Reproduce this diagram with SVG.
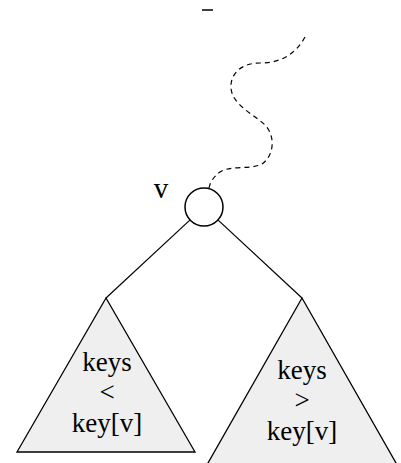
<svg xmlns="http://www.w3.org/2000/svg" width="401" height="463" viewBox="0 0 401 463">
<style>
.tri{fill:#efefef;stroke:#000;stroke-width:1.3}
.edge{stroke:#000;stroke-width:1.2;fill:none}
.dash{stroke:#000;stroke-width:1.2;fill:none;stroke-dasharray:5,4}
.lbl{font-family:"Liberation Serif",serif;font-size:27px;fill:#000;text-anchor:middle}
</style>
<rect width="401" height="463" fill="#fff"/>
<line x1="202" y1="10" x2="213" y2="10" stroke="#000" stroke-width="1.5"/>
<g id="connectors">
<path class="dash" d="M305,37 C295,55 280,63 260,63 C240,63 230,75 231,88 C232,105 255,115 265,125 C275,135 275,155 262,164 C250,170 230,165 220,172 C213,177 210,183 209,188"/>
<line class="edge" x1="190.1" y1="219.9" x2="106" y2="298"/>
<line class="edge" x1="217.9" y1="219.9" x2="302" y2="298"/>
</g>
<g id="node-v">
<circle cx="204" cy="207" r="19" fill="#fff" stroke="#000" stroke-width="1.5"/>
<text class="lbl" x="161" y="198" style="font-size:29px">v</text>
</g>
<g id="left-subtree">
<polygon class="tri" points="106,298 17,452 195,452"/>
<text class="lbl" x="107" y="371">keys</text>
<text class="lbl" x="107" y="401">&lt;</text>
<text class="lbl" x="107" y="432">key[v]</text>
</g>
<g id="right-subtree">
<polygon class="tri" points="302,298 204,470 400,470"/>
<text class="lbl" x="302" y="379">keys</text>
<text class="lbl" x="302" y="409">&gt;</text>
<text class="lbl" x="302" y="440">key[v]</text>
</g>
</svg>
